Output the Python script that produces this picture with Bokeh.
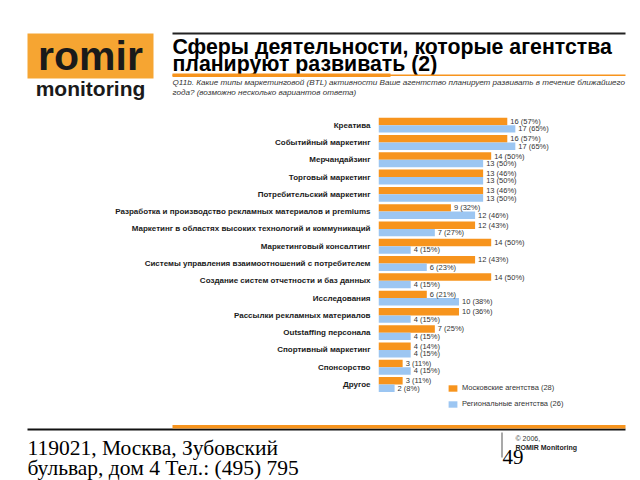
from bokeh.plotting import figure
from bokeh.models import (ColumnDataSource, Range1d, Label, Legend, LegendItem,
                          BoxAnnotation, FixedTicker)
from bokeh.core.properties import value
from bokeh.transform import dodge
from bokeh.layouts import column
from bokeh.embed import file_html
from bokeh.resources import INLINE

# ---------------- data ----------------
categories = [
    "Креатива",
    "Событийный маркетинг",
    "Мерчандайзинг",
    "Торговый маркетинг",
    "Потребительский маркетинг",
    "Разработка и производство рекламных материалов и premiums",
    "Маркетинг в областях высоких технологий и коммуникаций",
    "Маркетинговый консалтинг",
    "Системы управления взаимоотношений с потребителем",
    "Создание систем отчетности и баз данных",
    "Исследования",
    "Рассылки рекламных материалов",
    "Outstaffing персонала",
    "Спортивный маркетинг",
    "Спонсорство",
    "Другое",
]
moscow = [16, 16, 14, 13, 13, 9, 12, 14, 12, 14, 6, 10, 7, 4, 3, 3]
moscow_pct = [57, 57, 50, 46, 46, 32, 43, 50, 43, 50, 21, 36, 25, 14, 11, 11]
regional = [17, 17, 13, 13, 13, 12, 7, 4, 6, 4, 10, 4, 4, 4, 4, 2]
regional_pct = [65, 65, 50, 50, 50, 46, 27, 15, 23, 15, 38, 15, 15, 15, 15, 8]
series_names = ["Московские агентства (28)", "Региональные агентства (26)"]

title_lines = ["Сферы деятельности, которые агентства", "планируют развивать (2)"]
question_lines = [
    "Q11b. Какие типы маркетинговой (BTL) активности Ваше агентство планирует развивать в течение ближайшего",
    "года? (возможно несколько вариантов ответа)",
]
footer_lines = ["119021, Москва, Зубовский", "бульвар, дом 4 Тел.: (495) 795"]

ORANGE = "#F7941D"
BLUE = "#9CC6F2"
LOGO = "#F6A532"
SANS = "Liberation Sans"
SERIF = "Liberation Serif"
W = 640


def blank(h, y0, y1):
    f = figure(width=W, height=h, output_backend="svg", toolbar_location=None,
               x_range=Range1d(0, W), y_range=Range1d(y1, y0),
               x_axis_location=None, y_axis_location=None, min_border=0,
               frame_align=False)
    f.outline_line_color = None
    f.xgrid.visible = False
    f.ygrid.visible = False
    return f


def txt(f, x, y, s, size, style="normal", font=SANS, color="#000000", align="left"):
    f.add_layout(Label(x=x, y=y, text=s, text_font=font, text_font_size=f"{size}px",
                       text_font_style=style, text_color=color, text_align=align,
                       text_baseline="alphabetic"))


def box(f, l, r, t, b, c):
    f.add_layout(BoxAnnotation(left=l, right=r, top=t, bottom=b, fill_color=c,
                               fill_alpha=1, line_color=None))


# ---------------- header ----------------
head = blank(105, 0, 105)
box(head, 27, 153, 33, 78, LOGO)
txt(head, 90, 55, "romir", 41, "bold", color="#1a1a1a", align="center")
txt(head, 90, 88, "monitoring", 21, "bold", color="#1a1a1a", align="center")
box(head, 172, 625, 32, 34, "#222222")
txt(head, 172, 46, title_lines[0], 21.3, "bold")
txt(head, 172, 63, title_lines[1], 21.3, "bold")
box(head, 172, 625, 74, 75.5, ORANGE)
box(head, 172, 390, 73, 76.5, ORANGE)
txt(head, 172, 82, question_lines[0], 8.1, "italic", color="#333333")
txt(head, 172, 91.5, question_lines[1], 8.1, "italic", color="#333333")

# ---------------- chart ----------------
n = len(categories)
ypos = [n - 1 - i for i in range(n)]
src = ColumnDataSource(dict(
    y=ypos, moscow=moscow, regional=regional,
    mlab=[f"{v}  ({p}%)" for v, p in zip(moscow, moscow_pct)],
    rlab=[f"{v}  ({p}%)" for v, p in zip(regional, regional_pct)],
))
chart = figure(width=W, height=307, output_backend="svg", toolbar_location=None,
               y_range=Range1d(-1.5, n - 0.5), x_range=Range1d(0, 32.55),
               x_axis_location=None, frame_align=False,
               min_border_left=378, min_border_right=0, min_border_top=11,
               min_border_bottom=2)
chart.outline_line_color = None
chart.xgrid.visible = False
chart.ygrid.visible = False
r1 = chart.hbar(y=dodge("y", 0.215), right="moscow", left=0,
                height=0.43, source=src, fill_color=ORANGE, line_color=None)
r2 = chart.hbar(y=dodge("y", -0.215), right="regional", left=0,
                height=0.43, source=src, fill_color=BLUE, line_color=None)
chart.text(x="moscow", y=dodge("y", 0.215), text="mlab", source=src,
           x_offset=3, text_baseline="middle", text_font_size="7.5px",
           text_color="#333333", text_font=value(SANS))
chart.text(x="regional", y=dodge("y", -0.215), text="rlab", source=src,
           x_offset=3, text_baseline="middle", text_font_size="7.5px",
           text_color="#333333", text_font=value(SANS))
yax = chart.yaxis[0]
yax.ticker = FixedTicker(ticks=ypos)
yax.major_label_overrides = {y: c for y, c in zip(ypos, categories)}
yax.axis_line_color = None
yax.major_tick_line_color = None
yax.minor_tick_line_color = None
yax.major_label_text_font = SANS
yax.major_label_text_font_size = "8px"
yax.major_label_text_font_style = "bold"
yax.major_label_text_color = "#1a1a1a"
yax.major_label_standoff = 2

legend = Legend(items=[LegendItem(label=series_names[0], renderers=[r1]),
                       LegendItem(label=series_names[1], renderers=[r2])],
                location=(69, 2), orientation="vertical",
                label_text_font=SANS, label_text_font_size="7.5px",
                label_text_color="#333333", glyph_width=11, glyph_height=8,
                label_height=8, spacing=7, padding=0, margin=0, label_standoff=4,
                border_line_color=None, background_fill_alpha=0)
chart.add_layout(legend, "center")

# ---------------- footer ----------------
foot = blank(68, 412, 480)
box(foot, 27, 625, 428, 430, "#111111")
box(foot, 172, 625, 424.5, 428, ORANGE)
txt(foot, 27, 447, footer_lines[0], 21.5, font=SERIF)
txt(foot, 27, 467, footer_lines[1], 21.5, font=SERIF)
box(foot, 501, 502, 432, 457, "#555555")
txt(foot, 502, 456, "49", 21, font=SERIF)
txt(foot, 515, 437.5, "© 2006,", 7, color="#333333")
txt(foot, 515, 446.5, "ROMIR Monitoring", 7, "bold", color="#222222")

p = column(head, chart, foot, spacing=0)
open("out.html", "w").write(file_html(p, INLINE))
